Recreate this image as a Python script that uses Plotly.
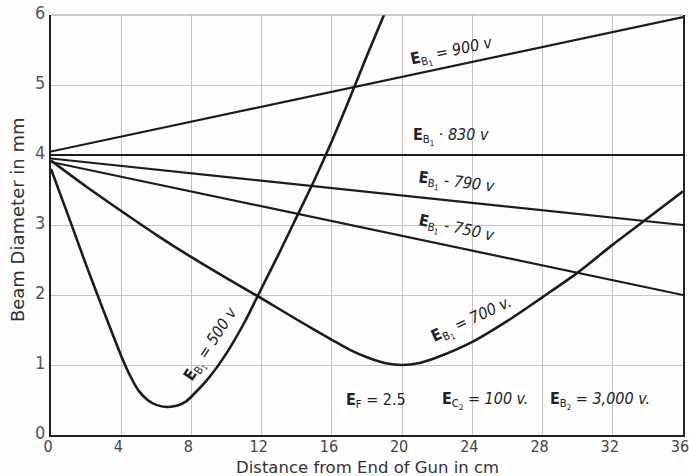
import plotly.graph_objects as go

# ---- data ----
dist_line = [0, 36]
eb1_900 = [4.05, 5.97]
eb1_830 = [4.0, 4.0]
eb1_790 = [3.95, 3.0]
eb1_750 = [3.9, 2.0]

x_700 = [0, 2, 4, 6, 8, 10, 12, 14, 16, 17, 18, 19, 20, 21, 22, 24, 26, 28, 30, 32, 34, 36]
eb1_700 = [3.92, 3.55, 3.2, 2.86, 2.54, 2.24, 1.95, 1.65, 1.36, 1.22, 1.11, 1.03, 1.0, 1.03, 1.11, 1.33, 1.63, 1.97, 2.32, 2.72, 3.1, 3.48]

x_500 = [0, 1, 2, 3, 4, 4.5, 5, 5.5, 6, 6.6, 7.2, 7.7, 8.2, 9, 10, 11, 12, 13, 14, 15, 16, 17, 18, 19]
eb1_500 = [3.8, 3.12, 2.43, 1.77, 1.13, 0.85, 0.63, 0.5, 0.43, 0.4, 0.42, 0.48, 0.6, 0.82, 1.17, 1.6, 2.1, 2.6, 3.12, 3.64, 4.2, 4.8, 5.42, 6.02]

x_ticks = [0, 4, 8, 12, 16, 20, 24, 28, 32, 36]
y_ticks = [0, 1, 2, 3, 4, 5, 6]

SUB1 = "<sub>B<sub>1</sub></sub>"
# label text, anchor (x, y) and angle
labels = [
    ("<b>E</b>" + SUB1 + " = <i>900 v</i>", 22.8, 5.47, -12),
    ("<b>E</b>" + SUB1 + " · <i>830 v</i>", 22.8, 4.26, 0),
    ("<b>E</b>" + SUB1 + " - <i>790 v</i>", 23.1, 3.59, 7),
    ("<b>E</b>" + SUB1 + " - <i>750 v</i>", 23.1, 2.94, 12),
    ("<b>E</b>" + SUB1 + " = <i>700 v.</i>", 24.0, 1.63, -25),
    ("<b>E</b>" + SUB1 + " = <i>500 v</i>", 9.17, 1.29, -57),
    ("<b>E</b><sub>F</sub> = 2.5", 18.5, 0.5, 0),
    ("<b>E</b><sub>C<sub>2</sub></sub> = <i>100 v.</i>", 24.7, 0.5, 0),
    ("<b>E</b><sub>B<sub>2</sub></sub> = <i>3,000 v.</i>", 31.3, 0.5, 0),
]

LINE = "#1c1c1c"
FONT = "DejaVu Sans Condensed, Liberation Sans Narrow, sans-serif"
TFONT = "DejaVu Sans, sans-serif"

fig = go.Figure()
for ys in (eb1_900, eb1_830, eb1_790, eb1_750):
    fig.add_trace(go.Scatter(x=dist_line, y=ys, mode="lines",
                             line=dict(color=LINE, width=2.2), hoverinfo="skip"))
fig.add_trace(go.Scatter(x=x_700, y=eb1_700, mode="lines",
                         line=dict(color=LINE, width=2.6, shape="spline", smoothing=0.8),
                         hoverinfo="skip"))
fig.add_trace(go.Scatter(x=x_500, y=eb1_500, mode="lines",
                         line=dict(color=LINE, width=2.6, shape="spline", smoothing=0.8),
                         hoverinfo="skip"))

for text, x, y, ang in labels:
    fig.add_annotation(x=x, y=y, text=text, showarrow=False, textangle=ang,
                       font=dict(family=FONT, size=16, color="#222"))

# axis titles
fig.add_annotation(xref="paper", yref="paper", x=0.5, y=-0.077, yanchor="middle",
                   text="Distance from End of Gun in cm", showarrow=False,
                   font=dict(family=TFONT, size=16.5, color="#333"))
fig.add_annotation(xref="paper", yref="paper", x=-0.052, y=0.512, xanchor="center",
                   text="Beam Diameter in mm", showarrow=False, textangle=-90,
                   font=dict(family=TFONT, size=18, color="#333"))

fig.update_layout(
    width=689, height=476,
    margin=dict(l=51, r=6, t=15, b=41, autoexpand=False),
    paper_bgcolor="#fdfdfd", plot_bgcolor="#fdfdfd",
    showlegend=False,
    font=dict(family=FONT, color="#333"),
)
fig.update_xaxes(
    range=[0, 36], tickvals=x_ticks, ticktext=[str(v) for v in x_ticks],
    showgrid=True, gridcolor="#c4c4c4", gridwidth=1, automargin=False,
    showline=True, linecolor="#222", linewidth=2, zeroline=False,
    ticks="", tickfont=dict(size=16, color="#444"),
    ticklabeloverflow="allow", ticklabelshift=-3, ticklabelstandoff=-4,
)
fig.update_yaxes(
    range=[0, 6], tickvals=y_ticks, ticktext=[str(v) for v in y_ticks],
    showgrid=True, gridcolor="#c4c4c4", gridwidth=1, automargin=False,
    showline=True, mirror=True, linecolor="#222", linewidth=2, zeroline=False,
    ticks="", tickfont=dict(size=18, color="#555"), ticklabeloverflow="allow",
    ticklabelshift=-2,
)
fig.add_shape(type="line", xref="paper", yref="paper", x0=0, x1=1, y0=1, y1=1,
              line=dict(color="#999", width=1.2))

fig.write_html("out.html", config={"displayModeBar": False},
               post_script="document.body.style.margin='0';document.body.style.overflow='hidden';")
